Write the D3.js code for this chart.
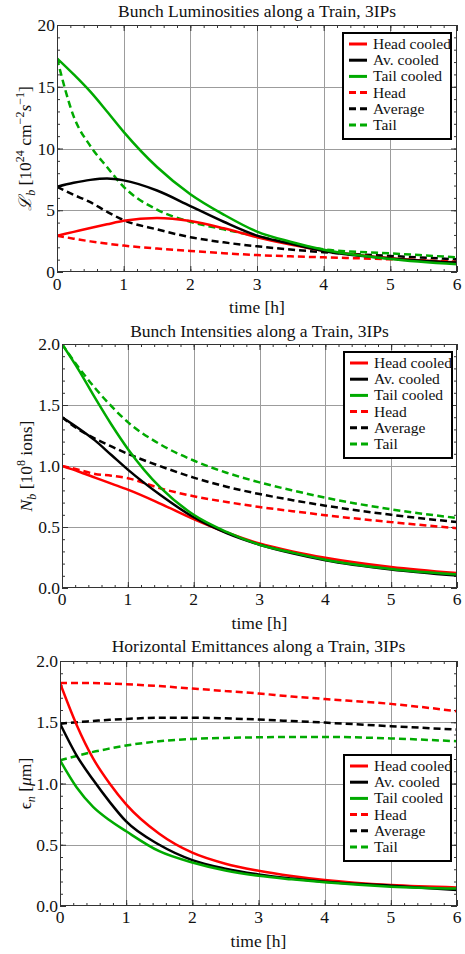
<!DOCTYPE html>
<html>
<head>
<meta charset="utf-8">
<script src="https://cdn.jsdelivr.net/npm/d3@7"></script>
<style>
html,body{margin:0;padding:0;background:#fff;}
svg{display:block;}
</style>
</head>
<body>
<svg id="chart" width="465" height="954"></svg>
<script>
// ---------------- DATA ----------------
const timeH = [0, 0.25, 0.5, 0.75, 1, 1.5, 2, 2.5, 3, 3.5, 4, 5, 6];
const xTicks = [0, 1, 2, 3, 4, 5, 6];
const seriesNames = ["Head cooled", "Av. cooled", "Tail cooled", "Head", "Average", "Tail"];
const seriesColors = ["#ff0000", "#000000", "#00aa00", "#ff0000", "#000000", "#00aa00"];
const seriesDashed = [false, false, false, true, true, true];

// Panel 1: bunch luminosity [1e24 cm^-2 s^-1]
const lumHeadCooled = [2.94, 3.25, 3.56, 3.86, 4.15, 4.37, 4.13, 3.54, 2.82, 2.22, 1.72, 1.12, 0.78];
const lumAvCooled   = [6.9, 7.22, 7.46, 7.57, 7.42, 6.6, 5.34, 4.07, 2.95, 2.3, 1.7, 1.1, 0.76];
const lumTailCooled = [17.3, 16.0, 14.6, 13.0, 11.35, 8.5, 6.3, 4.65, 3.27, 2.45, 1.8, 1.05, 0.62];
const lumHead       = [2.94, 2.7, 2.48, 2.3, 2.14, 1.9, 1.7, 1.52, 1.37, 1.27, 1.19, 1.03, 0.84];
const lumAverage    = [6.9, 6.25, 5.65, 4.88, 4.2, 3.45, 2.82, 2.4, 2.08, 1.82, 1.6, 1.3, 1.03];
const lumTail       = [17.3, 12.6, 10.2, 8.5, 6.9, 5.05, 4.07, 3.45, 2.9, 2.32, 1.84, 1.51, 1.19];
const lumTicks = [0, 5, 10, 15, 20];

// Panel 2: bunch intensity [1e8 ions]
const intHeadCooled = [1.0, 0.955, 0.905, 0.855, 0.806, 0.69, 0.565, 0.455, 0.365, 0.3, 0.248, 0.172, 0.122];
const intAvCooled   = [1.4, 1.31, 1.21, 1.09, 0.97, 0.76, 0.58, 0.45, 0.355, 0.285, 0.228, 0.152, 0.102];
const intTailCooled = [2.0, 1.79, 1.56, 1.34, 1.14, 0.82, 0.6, 0.46, 0.355, 0.29, 0.232, 0.156, 0.11];
const intHead       = [1.0, 0.97, 0.935, 0.92, 0.9, 0.816, 0.752, 0.705, 0.664, 0.63, 0.597, 0.54, 0.49];
const intAverage    = [1.4, 1.3, 1.225, 1.16, 1.1, 0.997, 0.905, 0.83, 0.77, 0.72, 0.675, 0.6, 0.54];
const intTail       = [2.0, 1.81, 1.64, 1.49, 1.36, 1.175, 1.045, 0.945, 0.866, 0.8, 0.74, 0.645, 0.574];
const intTicks = [0, 0.5, 1.0, 1.5, 2.0];

// Panel 3: horizontal emittance [um]
const emiHeadCooled = [1.82, 1.48, 1.205, 1.0, 0.83, 0.59, 0.435, 0.345, 0.288, 0.245, 0.212, 0.171, 0.152];
const emiAvCooled   = [1.49, 1.23, 1.03, 0.85, 0.69, 0.5, 0.375, 0.305, 0.258, 0.225, 0.198, 0.166, 0.13];
const emiTailCooled = [1.19, 0.97, 0.81, 0.7, 0.61, 0.447, 0.355, 0.29, 0.247, 0.218, 0.193, 0.158, 0.142];
const emiHead       = [1.82, 1.82, 1.82, 1.815, 1.81, 1.795, 1.775, 1.755, 1.735, 1.71, 1.69, 1.65, 1.59];
const emiAverage    = [1.488, 1.5, 1.51, 1.52, 1.527, 1.537, 1.537, 1.532, 1.522, 1.51, 1.497, 1.468, 1.44];
const emiTail       = [1.19, 1.225, 1.258, 1.285, 1.31, 1.345, 1.364, 1.372, 1.377, 1.38, 1.38, 1.368, 1.345];
const emiTicks = [0, 0.5, 1.0, 1.5, 2.0];

// ---------------- LAYOUT ----------------
const FONT = "'Liberation Serif','Times New Roman',serif";
const svg = d3.select("#chart");

const panels = [
  {
    title: "Bunch Luminosities along a Train, 3IPs",
    series: [lumHeadCooled, lumAvCooled, lumTailCooled, lumHead, lumAverage, lumTail],
    yTicks: lumTicks, yMax: 20, yMinor: 1, fmt: d => String(d),
    left: 57, right: 457, top: 25, bottom: 272,
    titleY: 17, xTickY: 290, xLabY: 313, yLabX: 25,
    legend: {x: 343, y: 33, w: 108, h: 106},
    ylabel: "lum"
  },
  {
    title: "Bunch Intensities along a Train, 3IPs",
    series: [intHeadCooled, intAvCooled, intTailCooled, intHead, intAverage, intTail],
    yTicks: intTicks, yMax: 2, yMinor: 0.1, fmt: d3.format(".1f"),
    left: 62, right: 457, top: 344, bottom: 588,
    titleY: 337, xTickY: 605, xLabY: 629, yLabX: 26,
    legend: {x: 344, y: 352, w: 108, h: 106},
    ylabel: "int"
  },
  {
    title: "Horizontal Emittances along a Train, 3IPs",
    series: [emiHeadCooled, emiAvCooled, emiTailCooled, emiHead, emiAverage, emiTail],
    yTicks: emiTicks, yMax: 2, yMinor: 0.1, fmt: d3.format(".1f"),
    left: 60, right: 457, top: 661, bottom: 906,
    titleY: 652, xTickY: 923, xLabY: 947, yLabX: 25,
    legend: {x: 344, y: 755, w: 107, h: 106},
    ylabel: "emi"
  }
];

panels.forEach((p, pi) => {
  const g = svg.append("g");
  const x = d3.scaleLinear().domain([0, 6]).range([p.left, p.right]);
  const y = d3.scaleLinear().domain([0, p.yMax]).range([p.bottom, p.top]);
  const W = p.right - p.left, H = p.bottom - p.top;

  // clip
  const clipId = "clip" + pi;
  svg.append("defs").append("clipPath").attr("id", clipId)
    .append("rect").attr("x", p.left).attr("y", p.top).attr("width", W).attr("height", H);

  // grid lines
  const grid = g.append("g").attr("stroke", "#9c9c9c").attr("stroke-width", 1);
  xTicks.slice(1, -1).forEach(t => {
    const xx = Math.round(x(t)) + 0.5;
    grid.append("line").attr("x1", xx).attr("x2", xx).attr("y1", p.top).attr("y2", p.bottom);
  });
  p.yTicks.slice(1, -1).forEach(v => {
    const yy = Math.round(y(v)) + 0.5;
    grid.append("line").attr("x1", p.left).attr("x2", p.right).attr("y1", yy).attr("y2", yy);
  });

  // axes via d3 (ticks inward on all four sides)
  const xMinorVals = d3.range(0, 6.0001, 0.2);
  const yMinorVals = d3.range(0, p.yMax + 1e-9, p.yMinor);
  const axCol = "#333";
  function styleAxis(sel) {
    sel.select(".domain").remove();
    sel.selectAll("line").attr("stroke", axCol);
    sel.selectAll("text").remove();
  }
  g.append("g").attr("transform", `translate(0,${p.bottom})`)
    .call(d3.axisTop(x).tickValues(xMinorVals).tickSize(3)).call(styleAxis);
  g.append("g").attr("transform", `translate(0,${p.bottom})`)
    .call(d3.axisTop(x).tickValues(xTicks).tickSize(6)).call(styleAxis);
  g.append("g").attr("transform", `translate(0,${p.top})`)
    .call(d3.axisBottom(x).tickValues(xMinorVals).tickSize(3)).call(styleAxis);
  g.append("g").attr("transform", `translate(0,${p.top})`)
    .call(d3.axisBottom(x).tickValues(xTicks).tickSize(6)).call(styleAxis);
  g.append("g").attr("transform", `translate(${p.left},0)`)
    .call(d3.axisRight(y).tickValues(yMinorVals).tickSize(3)).call(styleAxis);
  g.append("g").attr("transform", `translate(${p.left},0)`)
    .call(d3.axisRight(y).tickValues(p.yTicks).tickSize(6)).call(styleAxis);
  g.append("g").attr("transform", `translate(${p.right},0)`)
    .call(d3.axisLeft(y).tickValues(yMinorVals).tickSize(3)).call(styleAxis);
  g.append("g").attr("transform", `translate(${p.right},0)`)
    .call(d3.axisLeft(y).tickValues(p.yTicks).tickSize(6)).call(styleAxis);

  // curves
  const line = d3.line().x((d, i) => x(timeH[i])).y(d => y(d)).curve(d3.curveMonotoneX);
  const curves = g.append("g").attr("clip-path", `url(#${clipId})`);
  const order = [3, 4, 5, 0, 1, 2];
  order.forEach(si => {
    curves.append("path")
      .attr("d", line(p.series[si]))
      .attr("fill", "none")
      .attr("stroke", seriesColors[si])
      .attr("stroke-width", 2.5)
      .attr("stroke-dasharray", seriesDashed[si] ? "7,4" : null);
  });

  // frame
  g.append("rect").attr("x", p.left + 0.5).attr("y", p.top + 0.5)
    .attr("width", W - 1).attr("height", H - 1)
    .attr("fill", "none").attr("stroke", axCol).attr("stroke-width", 1);

  // tick labels
  const tl = g.append("g").attr("font-family", FONT).attr("font-size", "17.5px").attr("fill", "#111");
  xTicks.forEach(t => {
    tl.append("text").attr("x", x(t)).attr("y", p.xTickY).attr("text-anchor", "middle").text(t);
  });
  p.yTicks.forEach(v => {
    tl.append("text").attr("x", p.left - 2).attr("y", y(v) + 6).attr("text-anchor", "end").text(p.fmt(v));
  });

  // title
  g.append("text").attr("x", (p.left + p.right) / 2).attr("y", p.titleY)
    .attr("text-anchor", "middle").attr("font-family", FONT).attr("font-size", "17.5px")
    .attr("fill", "#111").text(p.title);

  // x label
  g.append("text").attr("x", (p.left + p.right) / 2).attr("y", p.xLabY)
    .attr("text-anchor", "middle").attr("font-family", FONT).attr("font-size", "17.5px")
    .attr("fill", "#111").text("time [h]");

  // y label
  const cy = (p.top + p.bottom) / 2;
  const yl = g.append("text").attr("transform", `translate(${p.yLabX + 6},${cy}) rotate(-90)`)
    .attr("text-anchor", "middle").attr("font-family", FONT).attr("font-size", "17.5px").attr("fill", "#111");
  if (p.ylabel === "lum") {
    yl.append("tspan").attr("font-style", "italic").text("ℒ");
    yl.append("tspan").attr("font-style", "italic").attr("font-size", "12px").attr("dy", 4).text("b");
    yl.append("tspan").attr("dy", -4).text(" [10");
    yl.append("tspan").attr("font-size", "12px").attr("dy", -7).text("24");
    yl.append("tspan").attr("dy", 7).text(" cm");
    yl.append("tspan").attr("font-size", "12px").attr("dy", -7).text("−2");
    yl.append("tspan").attr("font-style", "italic").attr("dy", 7).text("s");
    yl.append("tspan").attr("font-size", "12px").attr("dy", -7).text("−1");
    yl.append("tspan").attr("dy", 7).text("]");
  } else if (p.ylabel === "int") {
    yl.append("tspan").attr("font-style", "italic").text("N");
    yl.append("tspan").attr("font-style", "italic").attr("font-size", "12px").attr("dy", 4).text("b");
    yl.append("tspan").attr("dy", -4).text(" [10");
    yl.append("tspan").attr("font-size", "12px").attr("dy", -7).text("8");
    yl.append("tspan").attr("dy", 7).text(" ions]");
  } else {
    yl.append("tspan").text("ϵ");
    yl.append("tspan").attr("font-style", "italic").attr("font-size", "12px").attr("dy", 4).text("n");
    yl.append("tspan").attr("dy", -4).text(" [");
    yl.append("tspan").attr("font-style", "italic").text("μ");
    yl.append("tspan").text("m]");
  }

  // legend
  const L = p.legend;
  const lg = g.append("g");
  lg.append("rect").attr("x", L.x).attr("y", L.y).attr("width", L.w).attr("height", L.h)
    .attr("fill", "#fff").attr("stroke", "#000").attr("stroke-width", 2);
  seriesNames.forEach((name, i) => {
    const ry = L.y + 11 + i * 16.2;
    lg.append("line").attr("x1", L.x + 6).attr("x2", L.x + 24).attr("y1", ry).attr("y2", ry)
      .attr("stroke", seriesColors[i]).attr("stroke-width", 3)
      .attr("stroke-dasharray", seriesDashed[i] ? "7,4" : null);
    lg.append("text").attr("x", L.x + 30).attr("y", ry + 5)
      .attr("font-family", FONT).attr("font-size", "15.5px").attr("fill", "#111").text(name);
  });
});
</script>
</body>
</html>
